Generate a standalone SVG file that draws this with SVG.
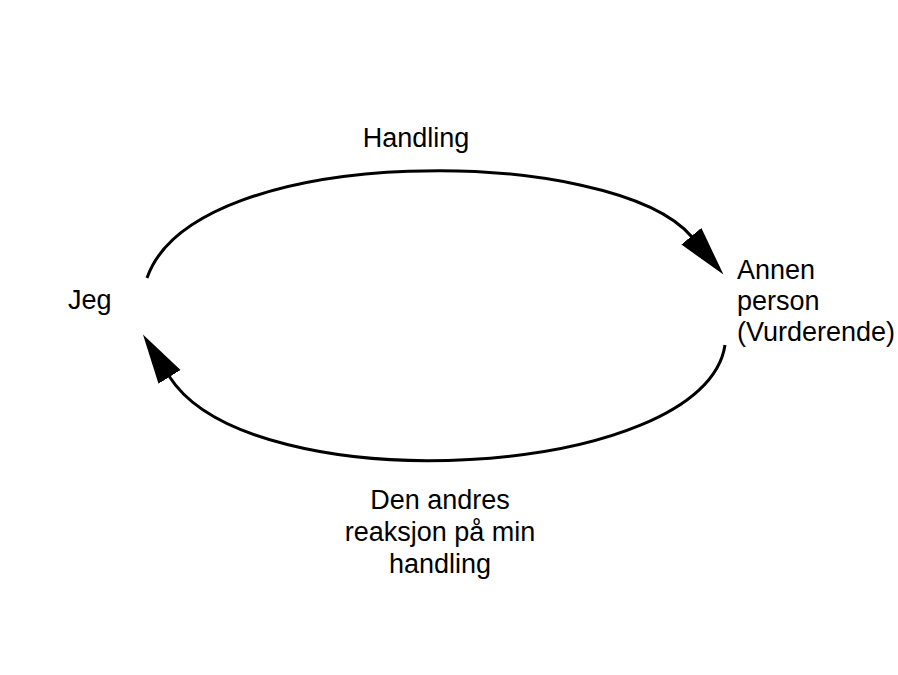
<svg xmlns="http://www.w3.org/2000/svg" width="898" height="675" viewBox="0 0 898 675">
<style>
.lbl{font-family:"Liberation Sans",Arial,sans-serif;font-size:27px;fill:#000}
.arc{fill:none;stroke:#000;stroke-width:3}
</style>
<defs>
<marker id="ah" markerUnits="userSpaceOnUse" markerWidth="52" markerHeight="28" viewBox="0 0 52 28" refX="1" refY="14" orient="auto">
<path d="M0,1 L50,14 L0,27 z" fill="#000"/>
</marker>
</defs>
<rect width="898" height="675" fill="#fff"/>
<g id="connectors">
<path class="arc" d="M147,278 C195,140 615,145 692,237" marker-end="url(#ah)"/>
<path class="arc" d="M725,345 C705,480 250,505 169,376" marker-end="url(#ah)"/>
</g>
<g id="jeg"><text class="lbl" x="68" y="309">Jeg</text></g>
<g id="annen"><text class="lbl" x="737" y="279">Annen</text><text class="lbl" x="737" y="310">person</text><text class="lbl" x="737" y="341">(Vurderende)</text></g>
<g id="handling"><text class="lbl" x="416" y="147" text-anchor="middle">Handling</text></g>
<g id="reaksjon"><text class="lbl" x="440" y="509" text-anchor="middle">Den andres</text><text class="lbl" x="440" y="541" text-anchor="middle">reaksjon på min</text><text class="lbl" x="440" y="573" text-anchor="middle">handling</text></g>
</svg>
